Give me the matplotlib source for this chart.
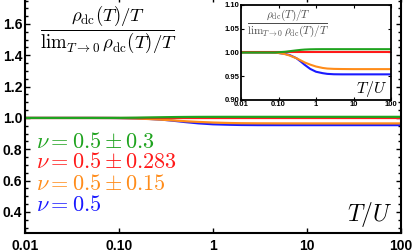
import numpy as np
import matplotlib
matplotlib.use("Agg")
import matplotlib.pyplot as plt
from matplotlib.ticker import FixedLocator, MultipleLocator, NullLocator

plt.rcParams['mathtext.fontset'] = 'cm'
plt.rcParams['font.family'] = ['Liberation Sans', 'DejaVu Sans']

# Data
T = [0.01, 0.03, 0.05, 0.08, 0.1, 0.15, 0.2, 0.3, 0.4, 0.5, 0.7, 1.0, 1.5, 2.0, 3.0, 5.0, 10.0, 30.0, 100.0]
green = [1.0, 1.0, 1.0, 1.0, 1.0005, 1.0015, 1.0028, 1.0045, 1.0056, 1.0062, 1.0067, 1.0069, 1.007, 1.007, 1.007, 1.007, 1.007, 1.007, 1.007]
red = [1.0] * len(T)
orange = [1.0, 1.0, 1.0, 0.9997, 0.999, 0.9965, 0.9935, 0.988, 0.983, 0.979, 0.9745, 0.9705, 0.9675, 0.9662, 0.9655, 0.9652, 0.965, 0.965, 0.965]
blue = [1.0, 1.0, 1.0, 0.9997, 0.999, 0.997, 0.9945, 0.988, 0.9805, 0.974, 0.9655, 0.9595, 0.9565, 0.955, 0.9542, 0.954, 0.954, 0.954, 0.954]

series = [
    (r'$\nu = 0.5 \pm 0.3$', green, '#1fa31f'),
    (r'$\nu = 0.5 \pm 0.283$', red, '#ff1a1a'),
    (r'$\nu = 0.5 \pm 0.15$', orange, '#ff8c1a'),
    (r'$\nu = 0.5$', blue, '#1a1aff'),
]
plot_order = [3, 2, 1, 0]

xticks = [0.01, 0.1, 1, 10, 100]
xticklabels = ['0.01', '0.10', '1', '10', '100']
yticks_main = [0.4, 0.6, 0.8, 1.0, 1.2, 1.4, 1.6]
yticklabels_main = ['0.4', '0.6', '0.8', '1.0', '1.2', '1.4', '1.6']
yticks_inset = [0.90, 0.95, 1.00, 1.05, 1.10]
yticklabels_inset = ['0.90', '0.95', '1.00', '1.05', '1.10']

frac = r'$\dfrac{\rho_{\rm dc}(T)/T}{{\rm lim}_{T\to 0}\,\rho_{\rm dc}(T)/T}$'

W, H = 415, 252
fig = plt.figure(figsize=(W / 100, H / 100), dpi=100)

ax = fig.add_axes([25 / W, 19 / H, 376 / W, 0.935])
for i in plot_order:
    lab, y, c = series[i]
    ax.plot(T, y, color=c, lw=1.6)
ax.set_xscale('log')
ax.set_xlim(0.01, 100)
ax.set_ylim(0.265, 1.77)
ax.xaxis.set_major_locator(FixedLocator(xticks))
ax.set_xticklabels(xticklabels)
ax.xaxis.set_minor_locator(NullLocator())
ax.yaxis.set_major_locator(FixedLocator(yticks_main))
ax.set_yticklabels(yticklabels_main)
ax.yaxis.set_minor_locator(MultipleLocator(0.05))
ax.tick_params(which='both', direction='in', top=True, right=True, width=1.0)
ax.tick_params(which='major', length=3.5, labelsize=10, pad=2)
ax.tick_params(which='minor', length=2)
ax.tick_params(axis='x', pad=4)
for lbl in ax.get_xticklabels() + ax.get_yticklabels():
    lbl.set_fontweight('bold')
for s in ax.spines.values():
    s.set_linewidth(1.5)

ax.text(0.222, 0.862, frac, transform=ax.transAxes, ha='center', va='center', fontsize=13.5)
ax.text(0.978, 0.015, r'$T/U$', transform=ax.transAxes, ha='right', va='bottom', fontsize=17)

ys = [0.382, 0.298, 0.206, 0.118]
for (lab, y, c), yy in zip(series, ys):
    ax.text(0.03, yy, lab, transform=ax.transAxes, ha='left', va='center', fontsize=16, color=c)

# Inset
axi = fig.add_axes([241 / W, (H - 100) / H, 150 / W, 95 / H])
for i in plot_order:
    lab, y, c = series[i]
    axi.plot(T, y, color=c, lw=1.5)
axi.set_xscale('log')
axi.set_xlim(0.01, 100)
axi.set_ylim(0.90, 1.10)
axi.xaxis.set_major_locator(FixedLocator(xticks))
axi.set_xticklabels(xticklabels)
axi.xaxis.set_minor_locator(NullLocator())
axi.yaxis.set_major_locator(FixedLocator(yticks_inset))
axi.set_yticklabels(yticklabels_inset)
axi.yaxis.set_minor_locator(NullLocator())
axi.tick_params(which='both', direction='in', top=True, right=True, length=2, width=0.8,
                labelsize=5.5, pad=1)
for lbl in axi.get_xticklabels() + axi.get_yticklabels():
    lbl.set_fontweight('bold')
for s in axi.spines.values():
    s.set_linewidth(1.3)
axi.text(0.31, 0.81, frac, transform=axi.transAxes, ha='center', va='center', fontsize=8, color='0.3')
axi.text(0.975, 0.01, r'$T/U$', transform=axi.transAxes, ha='right', va='bottom', fontsize=11.5)

fig.savefig('out.png', dpi=100)
